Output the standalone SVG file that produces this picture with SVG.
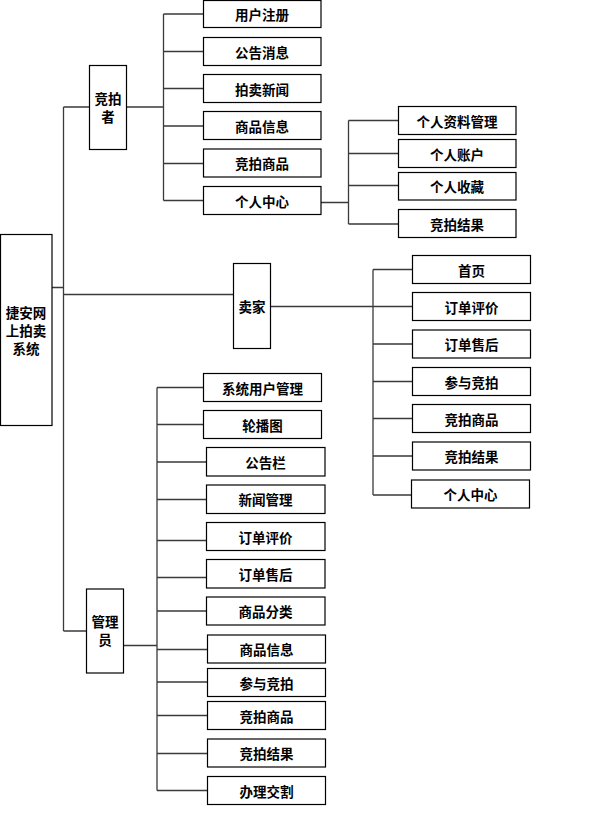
<svg xmlns="http://www.w3.org/2000/svg" width="608" height="816" viewBox="0 0 608 816">
<style>
.box{fill:#fff;stroke:#000;stroke-width:1.2}
.t{font-family:"Noto Sans CJK SC","Noto Sans CJK TC",sans-serif;font-size:13.5px;font-weight:bold;fill:#000;text-anchor:middle;dominant-baseline:central}
.c{fill:none;stroke:#3a3a3a;stroke-width:1.3}
</style>
<rect width="608" height="816" fill="#fff"/>
<g id="connectors" class="c">
<path d="M63.5 107V631M63.5 107H89.5M52 287.5H63.5M63.5 294.5H233.5M63.5 631H86.5"/>
<path d="M126.5 107H163.5M163.5 14V200.5M163.5 14H203.5M163.5 51.5H203.5M163.5 88.5H203.5M163.5 126H203.5M163.5 163.5H203.5M163.5 200.5H203.5"/>
<path d="M321 202.5H348.5M348.5 120.5V224M348.5 120.5H398.5M348.5 153.5H398.5M348.5 185.5H398.5M348.5 224H398.5"/>
<path d="M270.5 306.5H412.5M373 269.5V495M373 269.5H412.5M373 344H412.5M373 381.5H412.5M373 418.5H412.5M373 456H412.5M373 495H411.5"/>
<path d="M123.5 645.5H157M157 387.5V790.5M157 387.5H203.5M157 424.5H203.5M157 462H206.5M157 499.5H206.5M157 540.5H206.5M157 577.5H206.5M157 611H206.5M157 649.5H207.5M157 682H207.5M157 715.5H207.5M157 753.5H207.5M157 790.5H207.5"/>
</g>
<g id="root"><rect class="box" x="0.5" y="234.5" width="51.5" height="191"/><text class="t" x="26" y="311.5">捷安网</text><text class="t" x="26" y="329.5">上拍卖</text><text class="t" x="26" y="347.5">系统</text></g>
<g id="bidder"><rect class="box" x="89.5" y="65.5" width="37" height="84"/><text class="t" x="108" y="97.5">竞拍</text><text class="t" x="108" y="116">者</text></g>
<g id="seller"><rect class="box" x="233.5" y="263.5" width="37" height="85"/><text class="t" x="252" y="306">卖家</text></g>
<g id="admin"><rect class="box" x="86.5" y="589" width="37" height="84"/><text class="t" x="105" y="620.5">管理</text><text class="t" x="105" y="638.5">员</text></g>
<g id="b1"><rect class="box" x="203.5" y="0.5" width="117.5" height="27"/><text class="t" x="262" y="14">用户注册</text></g>
<g id="b2"><rect class="box" x="203.5" y="37.5" width="117.5" height="28"/><text class="t" x="262" y="51.5">公告消息</text></g>
<g id="b3"><rect class="box" x="203.5" y="74.5" width="117.5" height="28"/><text class="t" x="262" y="88.5">拍卖新闻</text></g>
<g id="b4"><rect class="box" x="203.5" y="111.5" width="117.5" height="28"/><text class="t" x="262" y="125.5">商品信息</text></g>
<g id="b5"><rect class="box" x="203.5" y="149" width="117.5" height="28"/><text class="t" x="262" y="163">竞拍商品</text></g>
<g id="b6"><rect class="box" x="203.5" y="186.5" width="117.5" height="28"/><text class="t" x="262" y="200.5">个人中心</text></g>
<g id="p1"><rect class="box" x="398.5" y="106.5" width="117.5" height="28"/><text class="t" x="457" y="120.5">个人资料管理</text></g>
<g id="p2"><rect class="box" x="398.5" y="139.5" width="117.5" height="28"/><text class="t" x="457" y="153.5">个人账户</text></g>
<g id="p3"><rect class="box" x="398.5" y="172.5" width="117.5" height="27.5"/><text class="t" x="457" y="186">个人收藏</text></g>
<g id="p4"><rect class="box" x="398.5" y="209.5" width="117.5" height="28"/><text class="t" x="457" y="223.5">竞拍结果</text></g>
<g id="s1"><rect class="box" x="412.5" y="255.5" width="118" height="28"/><text class="t" x="471.5" y="269.5">首页</text></g>
<g id="s2"><rect class="box" x="412.5" y="292.5" width="118" height="28"/><text class="t" x="471.5" y="306.5">订单评价</text></g>
<g id="s3"><rect class="box" x="412.5" y="330" width="118" height="28"/><text class="t" x="471.5" y="344">订单售后</text></g>
<g id="s4"><rect class="box" x="412.5" y="367.5" width="118" height="28"/><text class="t" x="471.5" y="381.5">参与竞拍</text></g>
<g id="s5"><rect class="box" x="412.5" y="404.5" width="118" height="28"/><text class="t" x="471.5" y="418.5">竞拍商品</text></g>
<g id="s6"><rect class="box" x="412.5" y="442" width="118" height="28"/><text class="t" x="471.5" y="456">竞拍结果</text></g>
<g id="s7"><rect class="box" x="411.5" y="480" width="118" height="28"/><text class="t" x="470.5" y="494">个人中心</text></g>
<g id="a1"><rect class="box" x="203.5" y="373.5" width="118" height="28"/><text class="t" x="262.5" y="387.5">系统用户管理</text></g>
<g id="a2"><rect class="box" x="203.5" y="410.5" width="118" height="28"/><text class="t" x="262.5" y="424.5">轮播图</text></g>
<g id="a3"><rect class="box" x="206.5" y="447.5" width="118.5" height="28.5"/><text class="t" x="265.5" y="462">公告栏</text></g>
<g id="a4"><rect class="box" x="206.5" y="485" width="118.5" height="28.5"/><text class="t" x="265.5" y="499">新闻管理</text></g>
<g id="a5"><rect class="box" x="206.5" y="522.5" width="118.5" height="28"/><text class="t" x="265.5" y="536.5">订单评价</text></g>
<g id="a6"><rect class="box" x="206.5" y="559.5" width="118.5" height="28.5"/><text class="t" x="265.5" y="574">订单售后</text></g>
<g id="a7"><rect class="box" x="206.5" y="597" width="118.5" height="28"/><text class="t" x="265.5" y="611">商品分类</text></g>
<g id="a8"><rect class="box" x="207.5" y="635" width="118" height="28"/><text class="t" x="266.5" y="649">商品信息</text></g>
<g id="a9"><rect class="box" x="207.5" y="668.5" width="118" height="28"/><text class="t" x="266.5" y="682.5">参与竞拍</text></g>
<g id="a10"><rect class="box" x="207.5" y="701.5" width="118" height="28"/><text class="t" x="266.5" y="715.5">竞拍商品</text></g>
<g id="a11"><rect class="box" x="207.5" y="739" width="118" height="28"/><text class="t" x="266.5" y="753">竞拍结果</text></g>
<g id="a12"><rect class="box" x="207.5" y="776.5" width="118" height="28"/><text class="t" x="266.5" y="790.5">办理交割</text></g>
</svg>
